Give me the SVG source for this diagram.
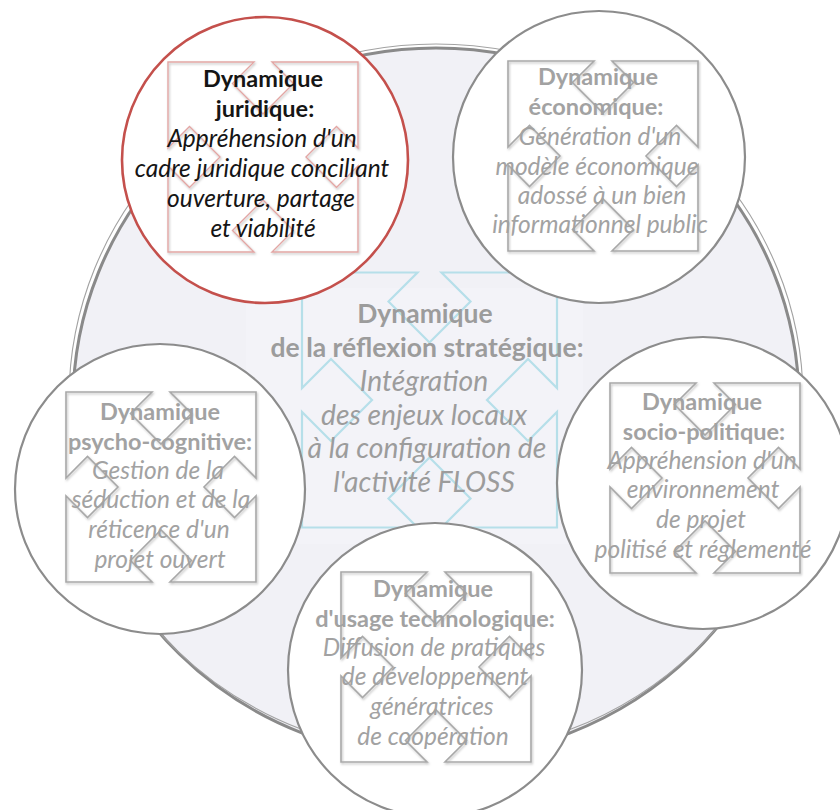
<svg xmlns="http://www.w3.org/2000/svg" xmlns:xlink="http://www.w3.org/1999/xlink" width="840" height="810" viewBox="0 0 840 810">
  <style>
    .ring { fill: #ffffff; stroke: #8c8c8c; stroke-width: 2.2; }
    .ring-red { fill: #ffffff; stroke: #c4504c; stroke-width: 2.6; }
    .icon { fill: none; stroke: #a8a8a8; stroke-width: 1.6; stroke-linejoin: miter; }
    .icon-red { fill: none; stroke: #e2a6a4; stroke-width: 1.4; }
    .icon-blue { fill: none; stroke: #b6dfe9; stroke-width: 2.2; }
    text { font-family: Lato, "Open Sans", "Liberation Sans", sans-serif; text-anchor: middle; }
    .t { font-size: 23.5px; fill: #a2a2a2; }
    .t-dark { font-size: 23.5px; fill: #151515; }
    .t-mid { font-size: 26.5px; fill: #9c9c9c; }
    .b { font-weight: bold; }
    .i { font-style: italic; font-size: 24.5px; }
    .t-mid.i { font-size: 28.3px; }
  </style>
  <defs>
    <!-- square frame with four inward arrowhead notches, 190 wide -->
    <path id="quad" d="M-95,-95 H-9 L-30.5,-73.5 L0,-43 L30.5,-73.5 L9,-95 H95 V-9 L73.5,-30.5 L43,0 L73.5,30.5 L95,9 V95 H9 L30.5,73.5 L0,43 L-30.5,73.5 L-9,95 H-95 V9 L-73.5,30.5 L-43,0 L-73.5,-30.5 L-95,-9 Z"/>
    <!-- same frame, 255 wide -->
    <path id="quad-lg" d="M-127.5,-127.5 H-12 L-41,-98.5 L0,-57.5 L41,-98.5 L12,-127.5 H127.5 V-12 L98.5,-41 L57.5,0 L98.5,41 L127.5,12 V127.5 H12 L41,98.5 L0,57.5 L-41,98.5 L-12,127.5 H-127.5 V12 L-98.5,41 L-57.5,0 L-98.5,-41 L-127.5,-12 Z"/>
    <filter id="soft" x="-10%" y="-10%" width="120%" height="120%">
      <feDropShadow dx="1" dy="1.5" stdDeviation="1.2" flood-color="#000" flood-opacity="0.25"/>
    </filter>
  </defs>

  <!-- central hub -->
  <g id="hub">
    <ellipse cx="436" cy="403" rx="363" ry="355" fill="#f1f1f6" stroke="#8a8a8a" stroke-width="3"/>
    <ellipse cx="436" cy="399" rx="367" ry="355" fill="none" stroke="#a2a2a2" stroke-width="1.1"/>
    <rect x="246" y="288" width="337" height="256" fill="#f3f3f8"/>
    <use xlink:href="#quad-lg" class="icon-blue" transform="translate(429.5,400)"/>
    <text class="t-mid b" x="425" y="323">Dynamique</text>
    <text class="t-mid b" x="427" y="357">de la réflexion stratégique:</text>
    <text class="t-mid i" x="424" y="391">Intégration</text>
    <text class="t-mid i" x="424" y="425">des enjeux locaux</text>
    <text class="t-mid i" x="427" y="458">à la configuration de</text>
    <text class="t-mid i" x="424" y="492">l'activité FLOSS</text>
  </g>

  <g id="juridique">
    <circle class="ring-red" cx="265" cy="160" r="143"/>
    <use xlink:href="#quad" class="icon-red" filter="url(#soft)" transform="translate(263,157)"/>
    <text class="t-dark b" x="263" y="87">Dynamique</text>
    <text class="t-dark b" x="265" y="117">juridique:</text>
    <text class="t-dark i" x="262" y="147">Appréhension d'un</text>
    <text class="t-dark i" x="262" y="177">cadre juridique conciliant</text>
    <text class="t-dark i" x="261" y="207">ouverture, partage</text>
    <text class="t-dark i" x="263" y="237">et viabilité</text>
  </g>

  <g id="economique">
    <circle class="ring" cx="599" cy="157" r="146"/>
    <use xlink:href="#quad" class="icon" filter="url(#soft)" transform="translate(603,156)"/>
    <text class="t b" x="598" y="85">Dynamique</text>
    <text class="t b" x="596" y="115">économique:</text>
    <text class="t i" x="600" y="145">Génération d'un</text>
    <text class="t i" x="597" y="175">modèle économique</text>
    <text class="t i" x="602" y="204">adossé à un bien</text>
    <text class="t i" x="600" y="233">informationnel public</text>
  </g>

  <g id="psycho-cognitive">
    <circle class="ring" cx="160" cy="489" r="145"/>
    <use xlink:href="#quad" class="icon" filter="url(#soft)" transform="translate(161,487)"/>
    <text class="t b" x="160" y="420">Dynamique</text>
    <text class="t b" x="160" y="450">psycho-cognitive:</text>
    <text class="t i" x="158" y="479">Gestion de la</text>
    <text class="t i" x="161" y="508">séduction et de la</text>
    <text class="t i" x="159" y="538">réticence d'un</text>
    <text class="t i" x="160" y="568">projet ouvert</text>
  </g>

  <g id="socio-politique">
    <circle class="ring" cx="703" cy="483" r="146"/>
    <use xlink:href="#quad" class="icon" filter="url(#soft)" transform="translate(705,478)"/>
    <text class="t b" x="702" y="410">Dynamique</text>
    <text class="t b" x="704" y="440">socio-politique:</text>
    <text class="t i" x="702" y="469">Appréhension d'un</text>
    <text class="t i" x="703" y="498">environnement</text>
    <text class="t i" x="701" y="528">de projet</text>
    <text class="t i" x="703" y="558">politisé et réglementé</text>
  </g>

  <g id="usage-technologique">
    <circle class="ring" cx="435" cy="670" r="147"/>
    <use xlink:href="#quad" class="icon" filter="url(#soft)" transform="translate(436,667)"/>
    <text class="t b" x="433" y="597">Dynamique</text>
    <text class="t b" x="435" y="627">d'usage technologique:</text>
    <text class="t i" x="434" y="656">Diffusion de pratiques</text>
    <text class="t i" x="435" y="685">de développement</text>
    <text class="t i" x="432" y="715">génératrices</text>
    <text class="t i" x="433" y="745">de coopération</text>
  </g>
</svg>
